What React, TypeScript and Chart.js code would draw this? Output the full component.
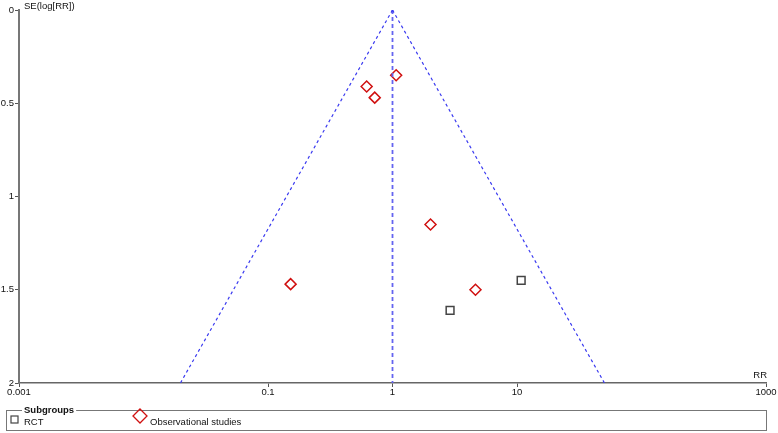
import React, { useEffect, useRef } from "react";
import { Chart, registerables } from "chart.js";

Chart.register(...registerables);

// Data
const rctRR = [10.8, 2.9];
const rctSE = [1.45, 1.61];
const obsRR = [0.62, 0.72, 1.07, 2.02, 4.64, 0.152];
const obsSE = [0.41, 0.47, 0.35, 1.15, 1.5, 1.47];
const funnelSE = [0, 2];
const funnelLeftRR = [1, 0.0198];
const funnelRightRR = [1, 50.4];
const centerRR = [1, 1];
const xTicks = [0.001, 0.1, 1, 10, 1000];
const yTicks = [0, 0.5, 1, 1.5, 2];

const FONT = "'Liberation Sans', Arial, sans-serif";

const decorPlugin = {
  id: "decor",
  afterDraw(chart: any) {
    const ctx = chart.ctx;
    const area = chart.chartArea;
    ctx.save();
    ctx.fillStyle = "#111";
    ctx.font = `9.5px ${FONT}`;
    ctx.textBaseline = "middle";
    ctx.textAlign = "left";
    ctx.fillText("SE(log[RR])", area.left + 5, area.top - 4);
    ctx.textAlign = "right";
    ctx.fillText("RR", area.right + 1, area.bottom - 8);

    // legend box
    const bx = 6.5, by = 410.5, bw = 760, bh = 20;
    ctx.strokeStyle = "#777";
    ctx.lineWidth = 1;
    ctx.strokeRect(bx, by, bw, bh);
    ctx.font = `bold 9.5px ${FONT}`;
    ctx.textAlign = "left";
    const tw = ctx.measureText("Subgroups").width;
    ctx.fillStyle = "#fff";
    ctx.fillRect(22, by - 2, tw + 4, 4);
    ctx.fillStyle = "#111";
    ctx.fillText("Subgroups", 24, by);

    // RCT marker
    ctx.strokeStyle = "#444";
    ctx.lineWidth = 1.2;
    ctx.strokeRect(11, 416, 7, 7);
    ctx.font = `9.5px ${FONT}`;
    ctx.fillStyle = "#111";
    ctx.fillText("RCT", 24, 422);

    // Observational marker
    ctx.strokeStyle = "#d01010";
    ctx.lineWidth = 1.3;
    ctx.beginPath();
    const cx = 140, cy = 416, r = 7;
    ctx.moveTo(cx, cy - r);
    ctx.lineTo(cx + r, cy);
    ctx.lineTo(cx, cy + r);
    ctx.lineTo(cx - r, cy);
    ctx.closePath();
    ctx.stroke();
    ctx.fillText("Observational studies", 150, 422);
    ctx.restore();
  },
};

export default function App() {
  const ref = useRef<HTMLCanvasElement | null>(null);

  useEffect(() => {
    document.body.style.margin = "0";
    const canvas = ref.current;
    if (!canvas) return;
    const toPts = (xs: number[], ys: number[]) => xs.map((x, i) => ({ x, y: ys[i] }));
    const chart = new Chart(canvas, {
      type: "scatter",
      data: {
        datasets: [
          {
            label: "left",
            data: toPts(funnelLeftRR, funnelSE),
            showLine: true,
            borderColor: "#3a3af0",
            borderWidth: 1.2,
            borderDash: [3, 3],
            pointRadius: 0,
          },
          {
            label: "right",
            data: toPts(funnelRightRR, funnelSE),
            showLine: true,
            borderColor: "#3a3af0",
            borderWidth: 1.2,
            borderDash: [3, 3],
            pointRadius: 0,
          },
          {
            label: "center",
            data: toPts(centerRR, funnelSE),
            showLine: true,
            borderColor: "#6464f0",
            borderWidth: 1.8,
            borderDash: [4, 3],
            pointRadius: 0,
          },
          {
            label: "RCT",
            data: toPts(rctRR, rctSE),
            pointStyle: "rect",
            pointRadius: 5.5,
            pointBorderColor: "#444",
            pointBackgroundColor: "#fff",
            pointBorderWidth: 1.5,
            borderColor: "#444",
            backgroundColor: "#fff",
          },
          {
            label: "Observational studies",
            data: toPts(obsRR, obsSE),
            pointStyle: "rectRot",
            pointRadius: 5.5,
            pointBorderColor: "#d01010",
            pointBackgroundColor: "#fff",
            pointBorderWidth: 1.5,
            borderColor: "#d01010",
            backgroundColor: "#fff",
          },
        ],
      },
      options: {
        animation: false,
        responsive: false,
        maintainAspectRatio: false,
        layout: { padding: { left: 0, right: 12, top: 10, bottom: 0 } },
        plugins: { legend: { display: false }, tooltip: { enabled: false } },
        scales: {
          x: {
            type: "logarithmic",
            position: "bottom",
            min: 0.001,
            max: 1000,
            afterBuildTicks: (scale: any) => {
              scale.ticks = xTicks.map((v) => ({ value: v }));
            },
            afterFit: (scale: any) => {
              scale.height = 50;
            },
            ticks: {
              color: "#111",
              font: { family: FONT, size: 9.5 },
              padding: 0,
              maxRotation: 0,
              autoSkip: false,
              callback: (v: any) => String(v),
            },
            grid: { drawOnChartArea: false, drawTicks: true, tickLength: 4, color: "#555" },
            border: { color: "#666", width: 1.5 },
          },
          y: {
            type: "linear",
            position: "left",
            reverse: true,
            min: 0,
            max: 2,
            afterBuildTicks: (scale: any) => {
              scale.ticks = yTicks.map((v) => ({ value: v }));
            },
            afterFit: (scale: any) => {
              scale.width = 19;
            },
            ticks: {
              color: "#111",
              font: { family: FONT, size: 9.5 },
              padding: 1,
              callback: (v: any) => String(v),
            },
            grid: { drawOnChartArea: false, drawTicks: true, tickLength: 4, color: "#555" },
            border: { color: "#777", width: 2 },
          },
        },
      },
      plugins: [decorPlugin],
    });
    return () => chart.destroy();
  }, []);

  return <canvas ref={ref} width={778} height={433} style={{ display: "block", width: 778, height: 433 }} />;
}
